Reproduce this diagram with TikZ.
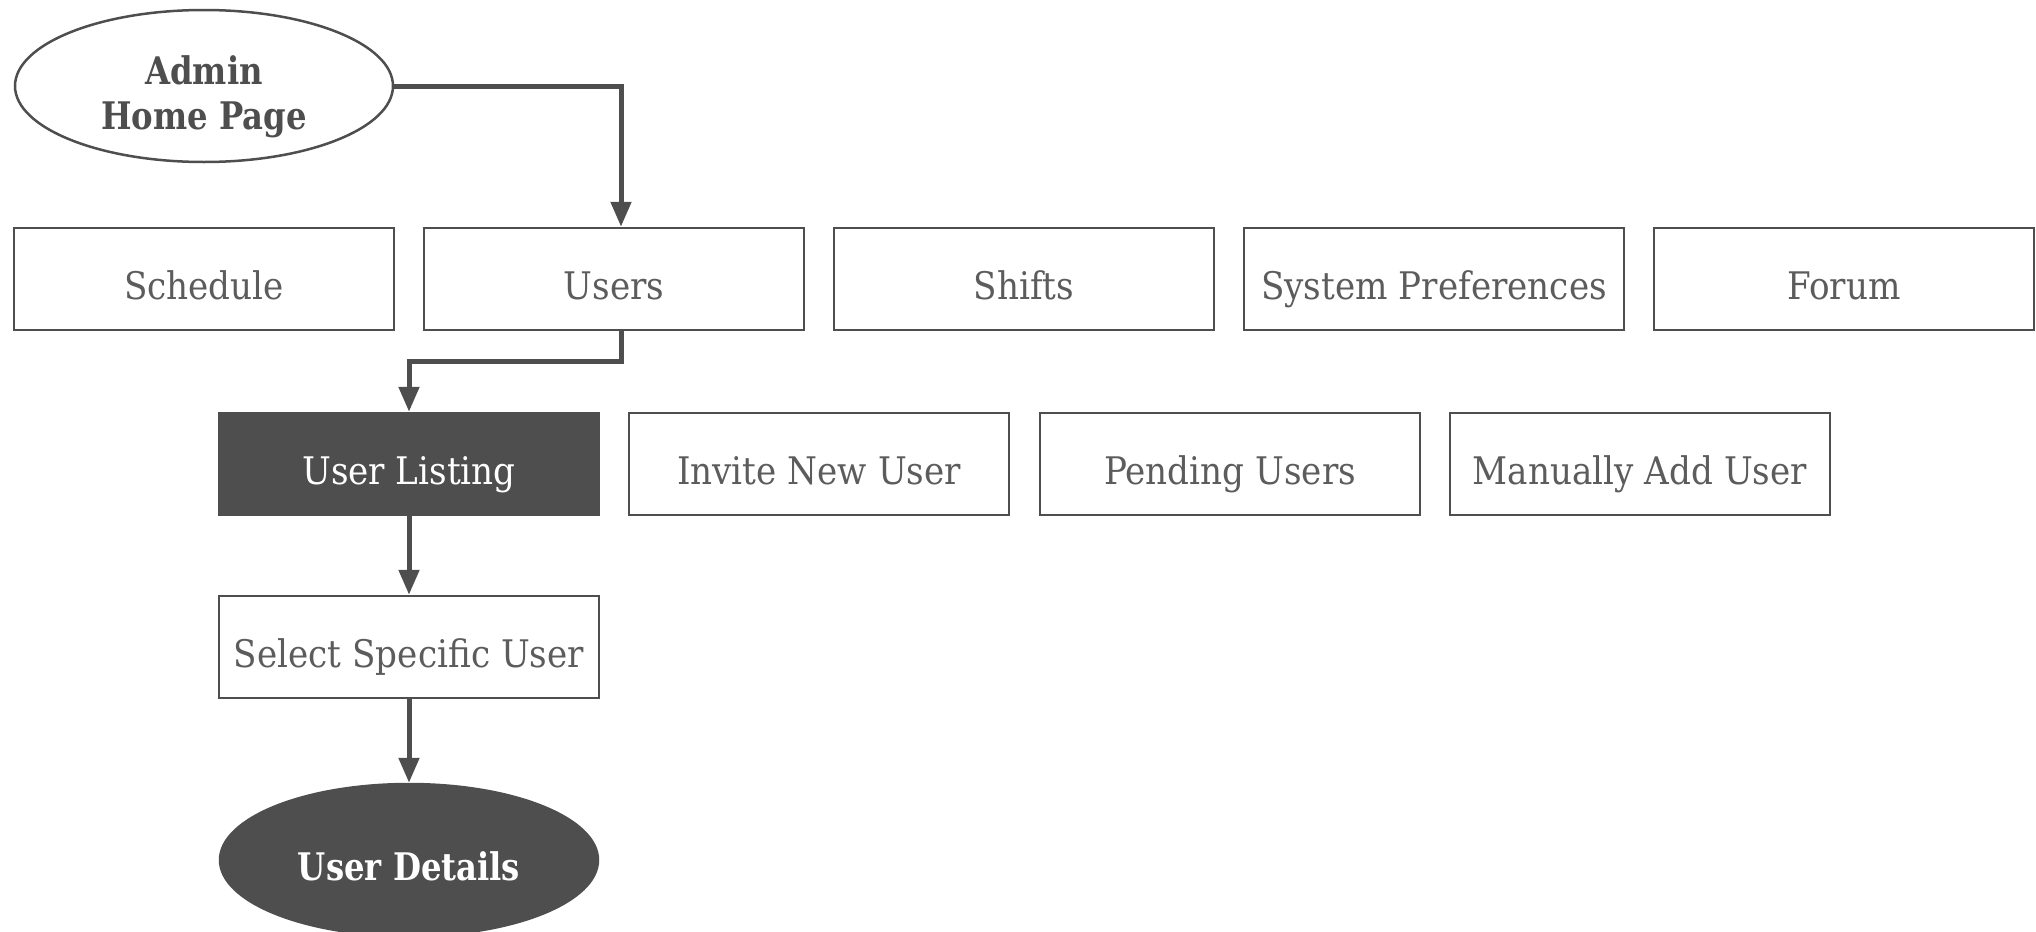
\documentclass[tikz,border=0pt]{standalone}
\usepackage{fontspec}
\setmainfont{DejaVu Serif}[FakeStretch=0.9,BoldFeatures={FakeStretch=0.85}]
\usetikzlibrary{arrows.meta,shapes.geometric}
\definecolor{dk}{RGB}{78,78,78}
\definecolor{tx}{RGB}{92,92,92}
\begin{document}
\begin{tikzpicture}[x=0.5pt,y=-0.5pt,
  txt/.style={font=\fontsize{19pt}{22.5pt}\selectfont,text height=20pt,text depth=0pt},
  box/.style={txt,draw=dk,line width=1.25pt,minimum width=190pt,minimum height=51pt,inner sep=0pt,text=tx},
  darkbox/.style={box,fill=dk,text=white},
  oval/.style={ellipse,draw=dk,line width=1.25pt,minimum width=189pt,minimum height=76pt,inner sep=0pt,
    text=dk,align=center},
  darkoval/.style={oval,txt,fill=dk,text=white,font=\fontsize{19pt}{22.5pt}\selectfont\bfseries},
  conn/.style={draw=dk,line width=2.5pt,-{Triangle[length=12.5pt,width=10pt]}}]
\useasboundingbox (0,0) rectangle (2036,932);
\node[oval,label={[text=dk,align=center,yshift=-5.5pt,font=\fontsize{19pt}{22.5pt}\selectfont\bfseries]center:Admin\\Home Page}] (admin) at (204,86) {};
\node[box] (schedule) at (204,279) {Schedule};
\node[box] (users) at (614,279) {Users};
\node[box] (shifts) at (1024,279) {Shifts};
\node[box] (syspref) at (1434,279) {System Preferences};
\node[box] (forum) at (1844,279) {Forum};
\node[darkbox] (listing) at (409,464) {User Listing};
\node[box] (invite) at (819,464) {Invite New User};
\node[box] (pending) at (1230,464) {Pending Users};
\node[box] (manual) at (1640,464) {Manually Add User};
\node[box] (select) at (409,647) {Select Specific User};
\node[darkoval] (details) at (409,860) {User Details};
\draw[conn] (admin.east) -| ([xshift=3.5pt]users.north);
\draw[conn] ([xshift=3.5pt]users.south) -- ++(0,30) -| (listing.north);
\draw[conn] (listing.south) -- (select.north);
\draw[conn] (select.south) -- (details.north);
\end{tikzpicture}
\end{document}
